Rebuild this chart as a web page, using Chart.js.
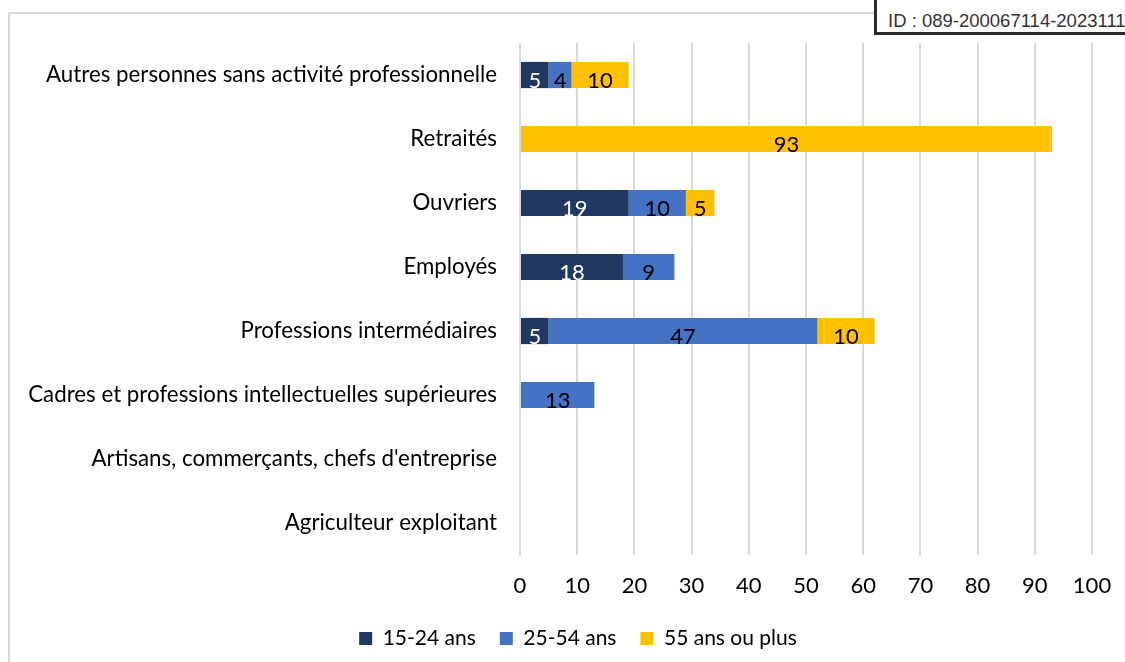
<!DOCTYPE html>
<html lang="fr">
<head>
<meta charset="utf-8">
<script src="https://cdn.jsdelivr.net/npm/chart.js@4/dist/chart.umd.min.js"></script>
<style>
  html, body { margin: 0; padding: 0; background: #fff; overflow: hidden; }
  #wrap { position: relative; width: 1125px; height: 662px; }
  #idBox {
    position: absolute; left: 874px; top: -4px;
    padding: 11px 40px 1px 11px;
    border: 3px solid #2b2b2b; background: #fff;
    font: 18.5px "Liberation Sans", Arial, sans-serif; line-height: 21px; color: #333;
    white-space: nowrap;
  }
</style>
</head>
<body>
<div id="wrap">
  <canvas id="csp" width="1125" height="662"></canvas>
  <div id="idBox">ID : 089-200067114-2023111</div>
</div>
<script>
// Catégories socioprofessionnelles (du haut vers le bas)
const categories = [
  'Autres personnes sans activité professionnelle',
  'Retraités',
  'Ouvriers',
  'Employés',
  'Professions intermédiaires',
  'Cadres et professions intellectuelles supérieures',
  "Artisans, commerçants, chefs d'entreprise",
  'Agriculteur exploitant'
];
const ages15_24 = [5, 0, 19, 18, 5, 0, 0, 0];
const ages25_54 = [4, 0, 10, 9, 47, 13, 0, 0];
const ages55plus = [10, 93, 5, 0, 10, 0, 0, 0];
const seriesNames = ['15-24 ans', '25-54 ans', '55 ans ou plus'];
const xTicks = [0, 10, 20, 30, 40, 50, 60, 70, 80, 90, 100];

const FONT = 'Lato';

// cadre gris clair autour du graphique
const frame = {
  id: 'frame',
  beforeDraw(chart) {
    const ctx = chart.ctx;
    ctx.save();
    ctx.strokeStyle = '#d9d9d9';
    ctx.lineWidth = 2;
    ctx.beginPath();
    ctx.moveTo(9, 700);
    ctx.lineTo(9, 13);
    ctx.lineTo(1200, 13);
    ctx.stroke();
    ctx.restore();
  }
};

// la légende reste centrée sous la zone de tracé
const legendBox = {
  id: 'legendBox',
  afterLayout(chart) {
    chart.legend.left = 64;
    chart.legend.right = 1092;
  }
};

// valeurs écrites dans les barres
const barLabels = {
  id: 'barLabels',
  afterDatasetsDraw(chart) {
    const ctx = chart.ctx;
    chart.data.datasets.forEach((ds, i) => {
      const meta = chart.getDatasetMeta(i);
      meta.data.forEach((bar, j) => {
        const v = ds.data[j];
        if (!v) return;
        const p = bar.getProps(['x', 'y', 'base', 'height'], true);
        const left = Math.min(p.x, p.base), w = Math.abs(p.x - p.base);
        const top = p.y - p.height / 2;
        ctx.save();
        ctx.beginPath();
        ctx.rect(left, top, w, p.height);
        ctx.clip();
        ctx.font = '22px ' + FONT;
        ctx.fillStyle = i === 0 ? '#ffffff' : '#000000';
        ctx.textAlign = 'center';
        ctx.textBaseline = 'alphabetic';
        ctx.fillText(String(v), left + w / 2, p.y + 13);
        ctx.restore();
      });
    });
  }
};

const colors = ['#203864', '#4472c4', '#ffc000'];
const values = [ages15_24, ages25_54, ages55plus];

new Chart(document.getElementById('csp'), {
  type: 'bar',
  data: {
    labels: categories,
    datasets: values.map((d, i) => ({
      label: seriesNames[i],
      data: d,
      backgroundColor: colors[i],
      borderWidth: 0,
      categoryPercentage: 1,
      barPercentage: 0.41
    }))
  },
  options: {
    indexAxis: 'y',
    responsive: false,
    animation: false,
    layout: { padding: { top: 43, left: 8, right: 33, bottom: 3 } },
    scales: {
      x: {
        stacked: true,
        min: 0,
        max: 100,
        afterBuildTicks: axis => { axis.ticks = xTicks.map(v => ({ value: v })); },
        afterFit: axis => { axis.height = 49; axis.paddingRight = 0; },
        grid: { color: '#d9d9d9', lineWidth: 2, drawTicks: false },
        border: { display: false },
        ticks: { padding: 18, color: '#000', font: { family: FONT, size: 22 } }
      },
      y: {
        stacked: true,
        afterFit: axis => { axis.width = 512; },
        grid: { display: false, drawTicks: false },
        border: { display: false },
        ticks: { padding: 23, color: '#000', font: { family: FONT, size: 22.3 } }
      }
    },
    plugins: {
      legend: {
        position: 'bottom',
        labels: {
          boxWidth: 13,
          boxHeight: 13,
          padding: 24,
          color: '#000',
          font: { family: FONT, size: 21 }
        }
      },
      tooltip: { enabled: false }
    }
  },
  plugins: [frame, legendBox, barLabels]
});
</script>
</body>
</html>
